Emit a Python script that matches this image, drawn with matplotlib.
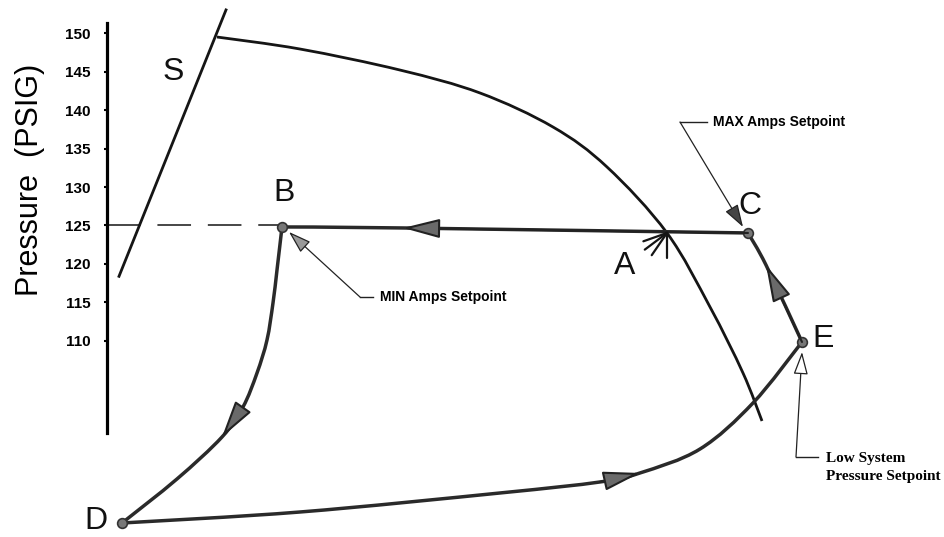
import matplotlib
matplotlib.use("Agg")
import matplotlib.pyplot as plt
from matplotlib.path import Path
from matplotlib.patches import PathPatch

plt.rcParams['font.family'] = ['Liberation Sans', 'DejaVu Sans']

# horizontal position is schematic (drawing units), vertical is pressure in PSIG
yticks = [110, 115, 120, 125, 130, 135, 140, 145, 150]

# surge line S
s_x = [119, 226]
s_p = [118.4, 153.0]

# pressure/capacity curve starting on the surge line
curve_x = [217, 300, 400, 480, 553, 607, 667, 710, 743, 762]
curve_p = [149.48, 147.92, 145.19, 142.21, 137.79, 132.60, 124.03, 114.42, 105.84, 99.61]

# control cycle C -> B -> D -> E -> C (some points carry the arrow heads)
cb_x = [748, 403, 282]
cb_p = [124.03, 124.68, 124.81]

bd_x = [282, 277, 273, 267, 257, 243, 222, 177, 122]
bd_p = [124.81, 119.22, 114.94, 110.13, 105.84, 101.43, 97.53, 92.08, 86.36]

de_x = [122, 300, 500, 600, 640, 700, 753, 802]
de_p = [86.36, 87.79, 90.26, 91.69, 92.86, 95.97, 101.95, 109.87]

ec_x = [802, 766, 748]
ec_p = [109.87, 119.87, 124.03]

# setpoint markers B, C, D, E
pts_x = [282, 748, 122, 802]
pts_p = [124.81, 124.03, 86.36, 109.87]

# dashed 125 PSIG reference
dash_x = [107, 282]
dash_p = [125, 125]

# point letters
letters = ['S', 'B', 'C', 'A', 'E', 'D']
letter_x = [173, 284, 750, 625, 823, 96]
letter_p = [144.94, 129.22, 127.53, 119.74, 110.26, 86.62]


def smooth_path(xs, ps):
    pts = list(zip(xs, ps))
    n = len(pts)
    verts = [pts[0]]
    codes = [Path.MOVETO]
    for i in range(n - 1):
        a = pts[max(i - 1, 0)]
        b = pts[i]
        c = pts[i + 1]
        d = pts[min(i + 2, n - 1)]
        c1 = (b[0] + (c[0] - a[0]) / 6, b[1] + (c[1] - a[1]) / 6)
        c2 = (c[0] - (d[0] - b[0]) / 6, c[1] - (d[1] - b[1]) / 6)
        verts += [c1, c2, c]
        codes += [Path.CURVE4] * 3
    return Path(verts, codes)


fig = plt.figure(figsize=(9.45, 5.37), dpi=100)
ax = fig.add_axes([107 / 945, 104 / 537, 838 / 945, 410 / 537])
ax.set_xlim(107, 945)
ax.set_ylim(98.05, 151.3)

for sp in ['top', 'right', 'bottom']:
    ax.spines[sp].set_visible(False)
ax.spines['left'].set_linewidth(2.3)
ax.set_xticks([])
ax.set_yticks(yticks)
ax.set_yticklabels([str(t) for t in yticks], fontsize=11, fontweight='bold')
ax.tick_params(axis='y', direction='out', length=2.5, width=1.5, pad=9.5)
ax.set_ylabel('Pressure  (PSIG)', fontsize=22)
ax.yaxis.set_label_coords(-0.074, 0.617)

ink = '#151515'
ax.plot(s_x, s_p, color=ink, lw=2.0, clip_on=False)
ax.add_patch(PathPatch(smooth_path(curve_x, curve_p), fill=False, ec=ink, lw=2.0,
                       clip_on=False))
ax.plot(dash_x, dash_p, color=ink, lw=1.1, dashes=(22, 11), clip_on=False)

for xs, ps in [(cb_x, cb_p), (bd_x, bd_p), (de_x, de_p), (ec_x, ec_p)]:
    ax.add_patch(PathPatch(smooth_path(xs, ps), fill=False, ec='#2a2a2a', lw=2.5,
                           capstyle='round', clip_on=False))


def head(xs, ps, i):
    ax.annotate('', xy=(xs[i], ps[i]), xytext=(xs[i - 1], ps[i - 1]),
                arrowprops=dict(arrowstyle='-|>,head_length=2.3,head_width=0.6',
                                mutation_scale=10, lw=1.5, fc='#6a6a6a', ec='#222222',
                                shrinkA=0, shrinkB=0),
                annotation_clip=False)


head(cb_x, cb_p, 1)
head(bd_x, bd_p, 6)
head(de_x, de_p, 4)
head(ec_x, ec_p, 1)

ax.plot(pts_x, pts_p, 'o', ms=7, mfc='#777777', mec='#333333', mew=1.2, clip_on=False)

for t, x, p in zip(letters, letter_x, letter_p):
    ax.text(x, p, t, fontsize=23, ha='center', va='center', color='#111111')

# "A" marker strokes at the crossing point
a_x, a_p = 667, 124.03
for dx, dy in [(-17, -6), (-16, -12), (-11, -16), (0, -18)]:
    ax.annotate('', xy=(a_x, a_p), xytext=(dx, dy), textcoords='offset points',
                arrowprops=dict(arrowstyle='-', lw=1.6, color=ink, shrinkA=0, shrinkB=0),
                annotation_clip=False)

# callouts
lead = dict(arrowstyle='-|>,head_length=1.4,head_width=0.45', mutation_scale=10,
            lw=0.9, color='#222222', shrinkA=0, shrinkB=0)

ax.plot([680, 707], [138.44, 138.44], color='#222222', lw=1.0, clip_on=False)
ax.annotate('', xy=(743, 124.81), xytext=(680, 138.44),
            arrowprops=dict(lead, fc='#444444'), annotation_clip=False)
ax.text(713, 138.44, 'MAX Amps Setpoint', fontsize=10, fontweight='bold',
        ha='left', va='center')

ax.plot([360, 373], [115.71, 115.71], color='#222222', lw=1.0, clip_on=False)
ax.annotate('', xy=(289, 124.16), xytext=(360, 115.71),
            arrowprops=dict(lead, fc='#999999', ec='#222222'), annotation_clip=False)
ax.text(380, 115.71, 'MIN Amps Setpoint', fontsize=10, fontweight='bold',
        ha='left', va='center')

ax.plot([796, 818], [94.94, 94.94], color='#222222', lw=1.0, clip_on=False)
ax.annotate('', xy=(802, 108.57), xytext=(796, 94.94),
            arrowprops=dict(lead, fc='white', ec='#222222'), annotation_clip=False)
ax.text(826, 93.51, 'Low System\nPressure Setpoint', fontsize=11, fontweight='bold',
        family='Liberation Serif', ha='left', va='center', linespacing=1.5)

fig.savefig('out.png', dpi=100)
